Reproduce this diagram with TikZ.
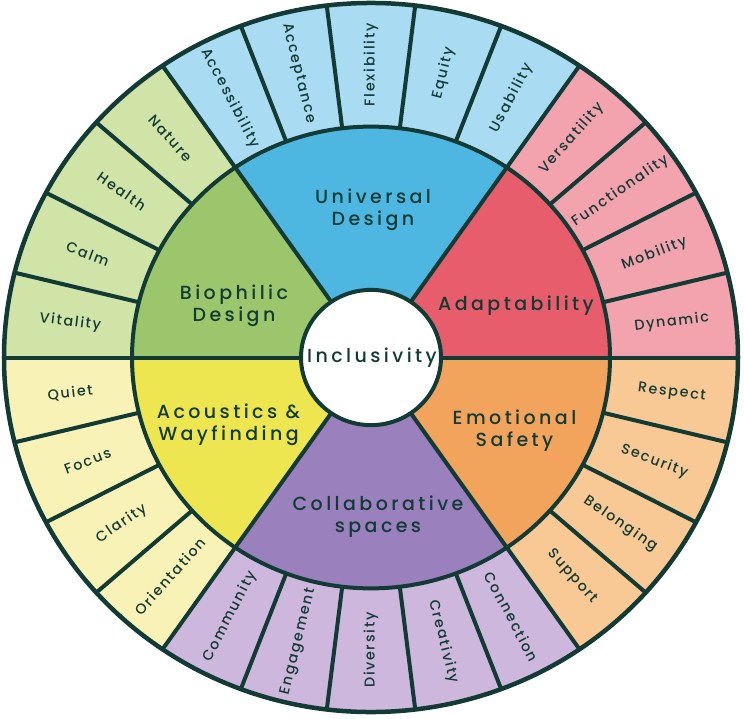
\documentclass[tikz,border=0pt]{standalone}
\usepackage{fontspec}
\newfontfamily\hubfont[LetterSpace=18, UprightFont=* Medium]{Poppins}
\newfontfamily\leaffont[LetterSpace=12, UprightFont=* Medium]{Poppins}
\usepackage{xcolor}
\usepackage{tikz}

\definecolor{ink}{HTML}{133B35}
\definecolor{univD}{HTML}{4DB7E2}
\definecolor{univL}{HTML}{A9DCF2}
\definecolor{adaptD}{HTML}{E85D6C}
\definecolor{adaptL}{HTML}{F2A3AE}
\definecolor{emoD}{HTML}{F3A45C}
\definecolor{emoL}{HTML}{F8C995}
\definecolor{collD}{HTML}{9A80BD}
\definecolor{collL}{HTML}{CDB7DD}
\definecolor{acouD}{HTML}{EEE651}
\definecolor{acouL}{HTML}{F9F2B6}
\definecolor{bioD}{HTML}{9CC66B}
\definecolor{bioL}{HTML}{D0E4A8}

\tikzset{
  rim/.style={draw=ink, line width=4pt},
  hub/.style={font=\hubfont\fontsize{19}{22}\selectfont, text=ink, align=center},
  leaf/.style={font=\leaffont\fontsize{14.3}{17}\selectfont, text=ink},
}

\begin{document}
\begin{tikzpicture}[x=1pt,y=1pt]
            \useasboundingbox (-371,-360.5) rectangle (373,357.5);

            \begin{scope}[yscale=0.966]
            % outer ring, light shades
            \foreach \a/\b/\c in {0/4/adaptL, 4/9/univL, 9/13/bioL, 13/17/acouL, 17/22/collL, 22/26/emoL}
                \fill[\c] ({\a*360/26}:239) arc[start angle=\a*360/26, end angle=\b*360/26, radius=239]
                    -- ({\b*360/26}:367) arc[start angle=\b*360/26, end angle=\a*360/26, radius=367] -- cycle;

            % inner ring, strong shades
            \foreach \a/\b/\c in {0/4/adaptD, 4/9/univD, 9/13/bioD, 13/17/acouD, 17/22/collD, 22/26/emoD}
                \fill[\c] ({\a*360/26}:70) arc[start angle=\a*360/26, end angle=\b*360/26, radius=70]
                    -- ({\b*360/26}:239) arc[start angle=\b*360/26, end angle=\a*360/26, radius=239] -- cycle;

            \foreach \k in {0,...,25}
                \draw[rim] ({\k*360/26}:239) -- ({\k*360/26}:367);
            \foreach \k in {0,4,9,13,17,22}
                \draw[rim] ({\k*360/26}:70) -- ({\k*360/26}:239);

            \draw[rim] (0,0) circle[radius=239];
            \draw[rim, line width=4.5pt] (0,0) circle[radius=367];
            \draw[rim, fill=white] (0,0) circle[radius=70];

            % outer words
            \foreach \k/\t in {0/Dynamic, 1/Mobility, 2/Functionality, 3/Versatility,
                    4/Usability, 5/Equity, 6/Flexibility, 7/Acceptance, 8/Accessibility,
                    9/Nature, 10/Health, 11/Calm, 12/Vitality,
                    13/Quiet, 14/Focus, 15/Clarity, 16/Orientation,
                    17/Community, 18/Engagement, 19/Diversity, 20/Creativity, 21/Connection,
                    22/Support, 23/Belonging, 24/Security, 25/Respect}{
                \pgfmathsetmacro\ang{(\k+0.5)*360/26}
                \pgfmathsetmacro\rot{\ang-180*and(\k>6,\k<20)}
                \node[leaf, rotate=\rot] (w\k) at (\ang:303) {\t};
            }
            \end{scope}

            \node[hub] (incl) at (1,0) {Inclusivity};
            \node[hub] (univ) at (2,147.5) {Universal\\Design};
            \node[hub] (adapt) at (145,51.5) {Adaptability};
            \node[hub] (emo) at (143.5,-73) {Emotional\\Safety};
            \node[hub] (coll) at (7,-159) {Collaborative\\spaces};
            \node[hub] (acou) at (-142.5,-67.5) {Acoustics \&\\Wayfinding};
            \node[hub] (bio) at (-137,51.5) {Biophilic\\Design};
        \end{tikzpicture}
\end{document}
